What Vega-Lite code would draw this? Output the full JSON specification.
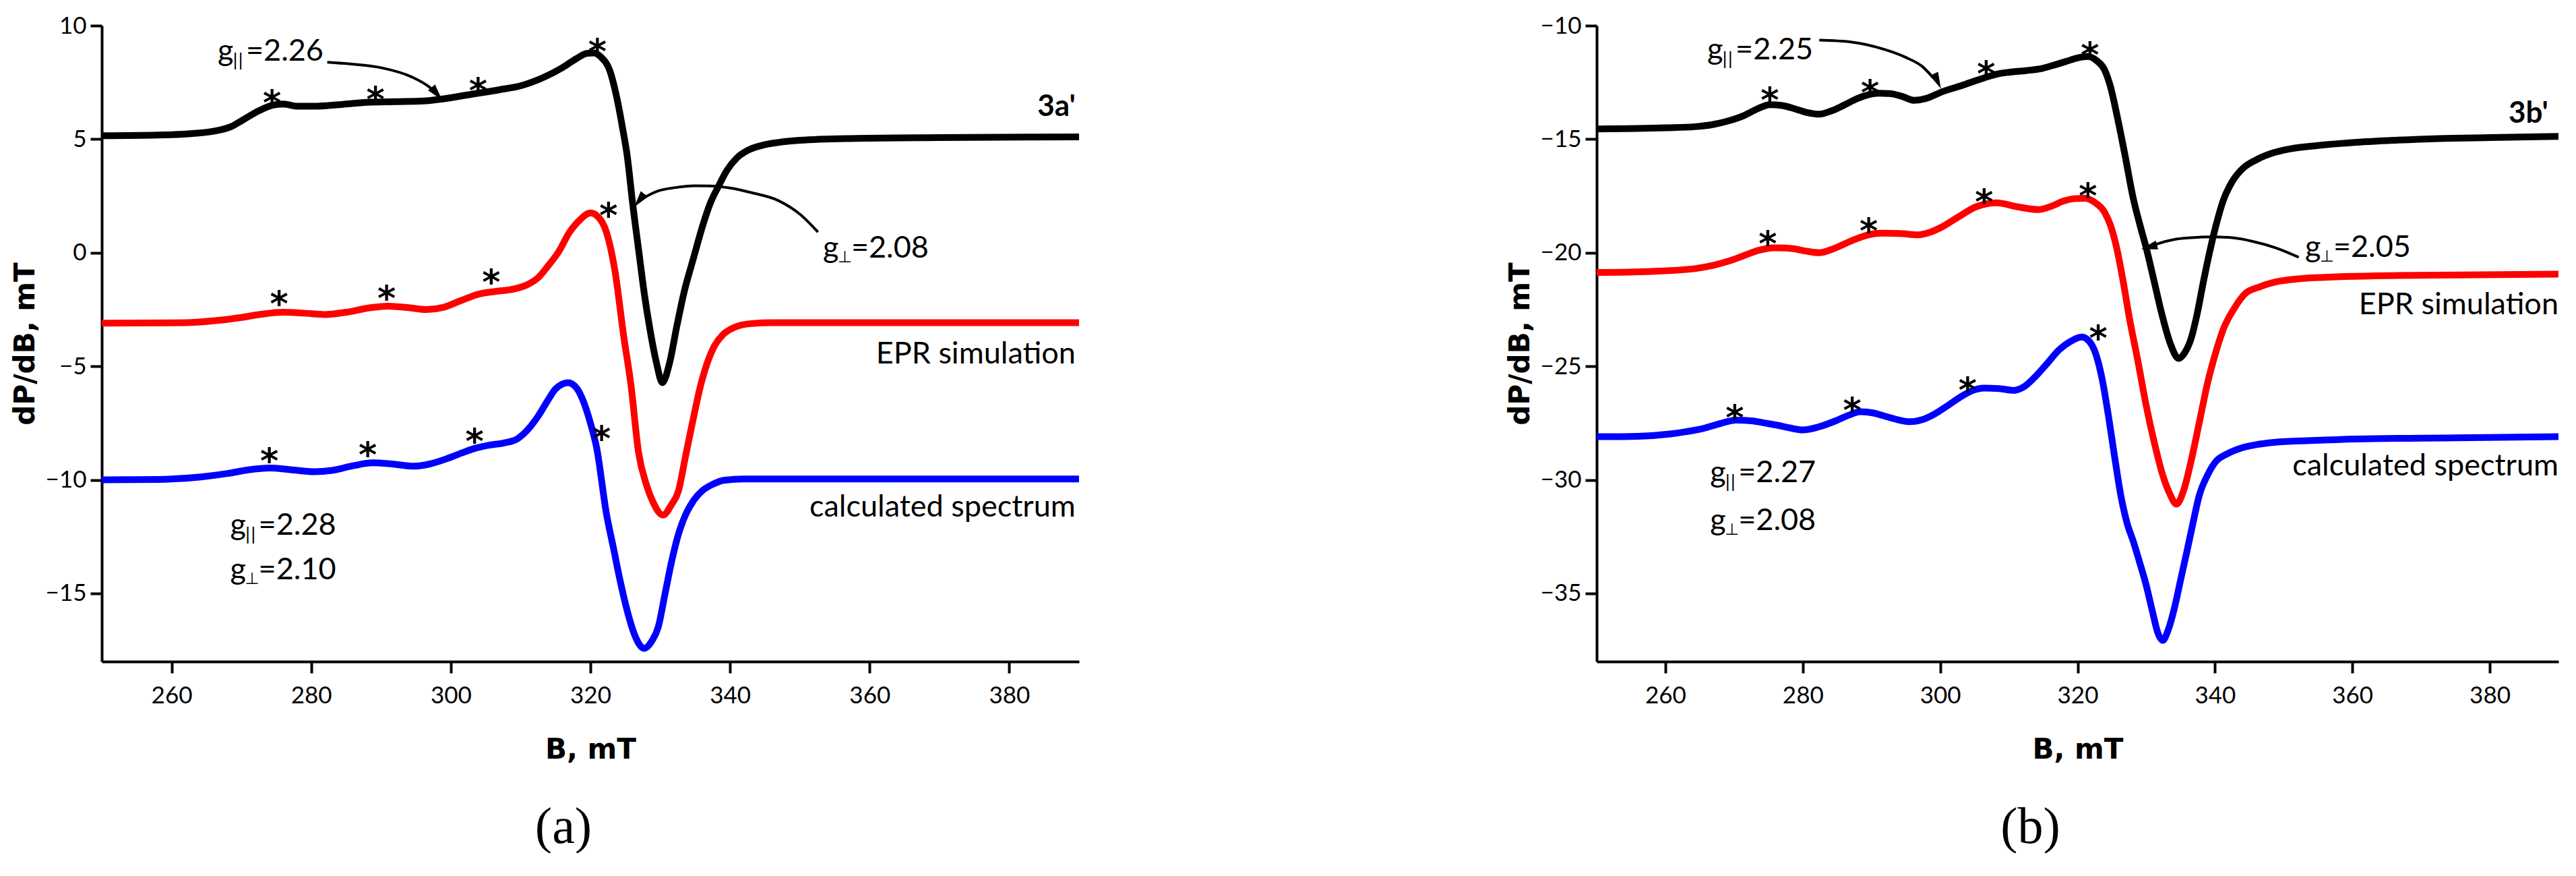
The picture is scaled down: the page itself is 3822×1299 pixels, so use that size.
{
  "$schema": "https://vega.github.io/schema/vega-lite/v6.json",
  "padding": {"left": 16, "top": 21, "right": 0, "bottom": 0},
  "background": "white",
  "spacing": 613,
  "config": {
    "view": {"stroke": null},
    "axis": {"domainColor": "black", "domainWidth": 4, "tickColor": "black", "tickWidth": 4, "tickSize": 17, "labelFont": "Lato", "labelFontSize": 35, "labelColor": "black", "titleFont": "DejaVu Sans", "titleFontSize": 42, "titleFontWeight": "bold", "titleColor": "black", "grid": false},
    "title": {"font": "Liberation Serif", "fontSize": 76, "fontWeight": "normal", "color": "black", "orient": "bottom", "offset": 58}
  },
  "datasets": {
    "curves": [
      {"p":"a","s":"exp","B":250,"v":5.15},{"p":"a","s":"exp","B":258,"v":5.18},{"p":"a","s":"exp","B":263,"v":5.25},{"p":"a","s":"exp","B":266,"v":5.35},{"p":"a","s":"exp","B":268.5,"v":5.55},{"p":"a","s":"exp","B":270.5,"v":5.9},{"p":"a","s":"exp","B":272.5,"v":6.25},{"p":"a","s":"exp","B":274.5,"v":6.5},{"p":"a","s":"exp","B":276,"v":6.55},{"p":"a","s":"exp","B":278,"v":6.45},{"p":"a","s":"exp","B":280.5,"v":6.45},{"p":"a","s":"exp","B":284,"v":6.52},{"p":"a","s":"exp","B":288,"v":6.62},{"p":"a","s":"exp","B":292,"v":6.65},{"p":"a","s":"exp","B":296,"v":6.68},{"p":"a","s":"exp","B":299,"v":6.78},{"p":"a","s":"exp","B":303,"v":6.98},{"p":"a","s":"exp","B":307,"v":7.18},{"p":"a","s":"exp","B":310,"v":7.35},{"p":"a","s":"exp","B":313.5,"v":7.75},{"p":"a","s":"exp","B":316,"v":8.15},{"p":"a","s":"exp","B":318,"v":8.55},{"p":"a","s":"exp","B":319.5,"v":8.78},{"p":"a","s":"exp","B":320.5,"v":8.8},{"p":"a","s":"exp","B":321.5,"v":8.62},{"p":"a","s":"exp","B":322.8,"v":8.0},{"p":"a","s":"exp","B":323.8,"v":6.8},{"p":"a","s":"exp","B":324.6,"v":5.5},{"p":"a","s":"exp","B":325.3,"v":4.2},{"p":"a","s":"exp","B":326.0,"v":2.3},{"p":"a","s":"exp","B":327.0,"v":-0.1},{"p":"a","s":"exp","B":327.7,"v":-1.76},{"p":"a","s":"exp","B":328.6,"v":-3.5},{"p":"a","s":"exp","B":329.5,"v":-4.9},{"p":"a","s":"exp","B":330.3,"v":-5.72},{"p":"a","s":"exp","B":331.3,"v":-4.9},{"p":"a","s":"exp","B":332.4,"v":-3.2},{"p":"a","s":"exp","B":333.4,"v":-1.76},{"p":"a","s":"exp","B":334.8,"v":-0.2},{"p":"a","s":"exp","B":336.1,"v":1.21},{"p":"a","s":"exp","B":337.2,"v":2.2},{"p":"a","s":"exp","B":338.3,"v":2.9},{"p":"a","s":"exp","B":339.6,"v":3.65},{"p":"a","s":"exp","B":341,"v":4.18},{"p":"a","s":"exp","B":342.5,"v":4.5},{"p":"a","s":"exp","B":344.5,"v":4.72},{"p":"a","s":"exp","B":347,"v":4.86},{"p":"a","s":"exp","B":350,"v":4.95},{"p":"a","s":"exp","B":357,"v":5.03},{"p":"a","s":"exp","B":370,"v":5.07},{"p":"a","s":"exp","B":390,"v":5.1},
      {"p":"a","s":"sim","B":250,"v":-3.1},{"p":"a","s":"sim","B":262,"v":-3.08},{"p":"a","s":"sim","B":266,"v":-3.0},{"p":"a","s":"sim","B":270,"v":-2.85},{"p":"a","s":"sim","B":273,"v":-2.7},{"p":"a","s":"sim","B":276,"v":-2.62},{"p":"a","s":"sim","B":279,"v":-2.66},{"p":"a","s":"sim","B":282,"v":-2.72},{"p":"a","s":"sim","B":285,"v":-2.62},{"p":"a","s":"sim","B":288.5,"v":-2.42},{"p":"a","s":"sim","B":291,"v":-2.35},{"p":"a","s":"sim","B":294,"v":-2.42},{"p":"a","s":"sim","B":296.5,"v":-2.5},{"p":"a","s":"sim","B":299,"v":-2.4},{"p":"a","s":"sim","B":301.5,"v":-2.1},{"p":"a","s":"sim","B":304,"v":-1.82},{"p":"a","s":"sim","B":306.5,"v":-1.7},{"p":"a","s":"sim","B":309,"v":-1.6},{"p":"a","s":"sim","B":311,"v":-1.4},{"p":"a","s":"sim","B":312.5,"v":-1.1},{"p":"a","s":"sim","B":314,"v":-0.55},{"p":"a","s":"sim","B":315.4,"v":0.02},{"p":"a","s":"sim","B":317,"v":0.9},{"p":"a","s":"sim","B":318.5,"v":1.45},{"p":"a","s":"sim","B":320,"v":1.75},{"p":"a","s":"sim","B":321.2,"v":1.55},{"p":"a","s":"sim","B":322.3,"v":0.9},{"p":"a","s":"sim","B":323.5,"v":-0.77},{"p":"a","s":"sim","B":324.8,"v":-3.74},{"p":"a","s":"sim","B":325.8,"v":-5.8},{"p":"a","s":"sim","B":326.9,"v":-8.8},{"p":"a","s":"sim","B":328,"v":-10.2},{"p":"a","s":"sim","B":329,"v":-11.0},{"p":"a","s":"sim","B":330.4,"v":-11.55},{"p":"a","s":"sim","B":331.6,"v":-11.1},{"p":"a","s":"sim","B":332.6,"v":-10.5},{"p":"a","s":"sim","B":333.6,"v":-9.0},{"p":"a","s":"sim","B":334.6,"v":-7.5},{"p":"a","s":"sim","B":335.9,"v":-5.7},{"p":"a","s":"sim","B":337.6,"v":-4.2},{"p":"a","s":"sim","B":339,"v":-3.6},{"p":"a","s":"sim","B":340.5,"v":-3.3},{"p":"a","s":"sim","B":343,"v":-3.12},{"p":"a","s":"sim","B":346,"v":-3.08},{"p":"a","s":"sim","B":390,"v":-3.08},
      {"p":"a","s":"calc","B":250,"v":-10.0},{"p":"a","s":"calc","B":258,"v":-9.98},{"p":"a","s":"calc","B":264.2,"v":-9.87},{"p":"a","s":"calc","B":268,"v":-9.72},{"p":"a","s":"calc","B":271,"v":-9.56},{"p":"a","s":"calc","B":274,"v":-9.48},{"p":"a","s":"calc","B":277,"v":-9.55},{"p":"a","s":"calc","B":280.4,"v":-9.64},{"p":"a","s":"calc","B":283,"v":-9.58},{"p":"a","s":"calc","B":286,"v":-9.38},{"p":"a","s":"calc","B":288.8,"v":-9.25},{"p":"a","s":"calc","B":291.5,"v":-9.3},{"p":"a","s":"calc","B":294.7,"v":-9.4},{"p":"a","s":"calc","B":297,"v":-9.3},{"p":"a","s":"calc","B":299.6,"v":-9.05},{"p":"a","s":"calc","B":301.7,"v":-8.8},{"p":"a","s":"calc","B":303.6,"v":-8.6},{"p":"a","s":"calc","B":305.5,"v":-8.47},{"p":"a","s":"calc","B":307.5,"v":-8.38},{"p":"a","s":"calc","B":309.5,"v":-8.2},{"p":"a","s":"calc","B":311,"v":-7.8},{"p":"a","s":"calc","B":312.5,"v":-7.2},{"p":"a","s":"calc","B":314,"v":-6.45},{"p":"a","s":"calc","B":315,"v":-6.0},{"p":"a","s":"calc","B":316.8,"v":-5.72},{"p":"a","s":"calc","B":318,"v":-5.95},{"p":"a","s":"calc","B":318.8,"v":-6.4},{"p":"a","s":"calc","B":320,"v":-7.5},{"p":"a","s":"calc","B":320.9,"v":-8.6},{"p":"a","s":"calc","B":322.3,"v":-11.5},{"p":"a","s":"calc","B":323.3,"v":-13.0},{"p":"a","s":"calc","B":324.3,"v":-14.5},{"p":"a","s":"calc","B":325.3,"v":-15.8},{"p":"a","s":"calc","B":326.3,"v":-16.8},{"p":"a","s":"calc","B":327.7,"v":-17.42},{"p":"a","s":"calc","B":328.8,"v":-17.1},{"p":"a","s":"calc","B":329.7,"v":-16.5},{"p":"a","s":"calc","B":330.7,"v":-15.0},{"p":"a","s":"calc","B":331.7,"v":-13.5},{"p":"a","s":"calc","B":332.7,"v":-12.3},{"p":"a","s":"calc","B":333.6,"v":-11.56},{"p":"a","s":"calc","B":334.8,"v":-10.9},{"p":"a","s":"calc","B":336.1,"v":-10.46},{"p":"a","s":"calc","B":337.5,"v":-10.2},{"p":"a","s":"calc","B":339.1,"v":-10.02},{"p":"a","s":"calc","B":342,"v":-9.96},{"p":"a","s":"calc","B":390,"v":-9.96},
      {"p":"b","s":"exp","B":250,"v":-14.55},{"p":"b","s":"exp","B":260,"v":-14.5},{"p":"b","s":"exp","B":264.3,"v":-14.45},{"p":"b","s":"exp","B":267,"v":-14.35},{"p":"b","s":"exp","B":269.1,"v":-14.2},{"p":"b","s":"exp","B":271.5,"v":-13.95},{"p":"b","s":"exp","B":273.5,"v":-13.65},{"p":"b","s":"exp","B":275.2,"v":-13.48},{"p":"b","s":"exp","B":277,"v":-13.52},{"p":"b","s":"exp","B":278.8,"v":-13.66},{"p":"b","s":"exp","B":280.5,"v":-13.82},{"p":"b","s":"exp","B":282.4,"v":-13.9},{"p":"b","s":"exp","B":284.2,"v":-13.75},{"p":"b","s":"exp","B":286,"v":-13.5},{"p":"b","s":"exp","B":288,"v":-13.2},{"p":"b","s":"exp","B":289.6,"v":-13.04},{"p":"b","s":"exp","B":291,"v":-12.98},{"p":"b","s":"exp","B":292.6,"v":-12.99},{"p":"b","s":"exp","B":294.5,"v":-13.12},{"p":"b","s":"exp","B":296.2,"v":-13.29},{"p":"b","s":"exp","B":297.8,"v":-13.22},{"p":"b","s":"exp","B":300.4,"v":-12.9},{"p":"b","s":"exp","B":303,"v":-12.65},{"p":"b","s":"exp","B":306.4,"v":-12.3},{"p":"b","s":"exp","B":308.5,"v":-12.12},{"p":"b","s":"exp","B":310.1,"v":-12.05},{"p":"b","s":"exp","B":312.5,"v":-11.98},{"p":"b","s":"exp","B":314.9,"v":-11.88},{"p":"b","s":"exp","B":317,"v":-11.7},{"p":"b","s":"exp","B":318.5,"v":-11.56},{"p":"b","s":"exp","B":320,"v":-11.42},{"p":"b","s":"exp","B":321.5,"v":-11.36},{"p":"b","s":"exp","B":322.8,"v":-11.55},{"p":"b","s":"exp","B":323.9,"v":-11.93},{"p":"b","s":"exp","B":324.8,"v":-12.7},{"p":"b","s":"exp","B":325.7,"v":-13.9},{"p":"b","s":"exp","B":326.9,"v":-15.7},{"p":"b","s":"exp","B":328.1,"v":-17.6},{"p":"b","s":"exp","B":329.1,"v":-18.8},{"p":"b","s":"exp","B":330,"v":-19.8},{"p":"b","s":"exp","B":331.1,"v":-21.2},{"p":"b","s":"exp","B":332.1,"v":-22.5},{"p":"b","s":"exp","B":333.5,"v":-24.0},{"p":"b","s":"exp","B":334.7,"v":-24.65},{"p":"b","s":"exp","B":335.6,"v":-24.4},{"p":"b","s":"exp","B":336.5,"v":-23.8},{"p":"b","s":"exp","B":337.4,"v":-22.7},{"p":"b","s":"exp","B":338.3,"v":-21.3},{"p":"b","s":"exp","B":339.2,"v":-20.0},{"p":"b","s":"exp","B":340.1,"v":-18.85},{"p":"b","s":"exp","B":341.2,"v":-17.7},{"p":"b","s":"exp","B":342.5,"v":-16.87},{"p":"b","s":"exp","B":344,"v":-16.3},{"p":"b","s":"exp","B":346.2,"v":-15.88},{"p":"b","s":"exp","B":348.5,"v":-15.6},{"p":"b","s":"exp","B":350.9,"v":-15.43},{"p":"b","s":"exp","B":355,"v":-15.28},{"p":"b","s":"exp","B":360.6,"v":-15.14},{"p":"b","s":"exp","B":366,"v":-15.05},{"p":"b","s":"exp","B":372.6,"v":-14.97},{"p":"b","s":"exp","B":380,"v":-14.93},{"p":"b","s":"exp","B":390,"v":-14.88},
      {"p":"b","s":"sim","B":250,"v":-20.87},{"p":"b","s":"sim","B":258,"v":-20.82},{"p":"b","s":"sim","B":264.3,"v":-20.7},{"p":"b","s":"sim","B":267,"v":-20.55},{"p":"b","s":"sim","B":269.1,"v":-20.38},{"p":"b","s":"sim","B":271.5,"v":-20.12},{"p":"b","s":"sim","B":273.5,"v":-19.9},{"p":"b","s":"sim","B":275.8,"v":-19.78},{"p":"b","s":"sim","B":277.5,"v":-19.79},{"p":"b","s":"sim","B":278.8,"v":-19.83},{"p":"b","s":"sim","B":280.5,"v":-19.93},{"p":"b","s":"sim","B":282.4,"v":-20.0},{"p":"b","s":"sim","B":284.5,"v":-19.82},{"p":"b","s":"sim","B":287.2,"v":-19.46},{"p":"b","s":"sim","B":289.4,"v":-19.22},{"p":"b","s":"sim","B":291.4,"v":-19.14},{"p":"b","s":"sim","B":294,"v":-19.15},{"p":"b","s":"sim","B":296.8,"v":-19.21},{"p":"b","s":"sim","B":298.5,"v":-19.1},{"p":"b","s":"sim","B":300.4,"v":-18.84},{"p":"b","s":"sim","B":302.5,"v":-18.45},{"p":"b","s":"sim","B":305.2,"v":-17.98},{"p":"b","s":"sim","B":308.2,"v":-17.8},{"p":"b","s":"sim","B":311.3,"v":-17.98},{"p":"b","s":"sim","B":314.3,"v":-18.1},{"p":"b","s":"sim","B":316.2,"v":-17.95},{"p":"b","s":"sim","B":317.9,"v":-17.73},{"p":"b","s":"sim","B":319.5,"v":-17.62},{"p":"b","s":"sim","B":321.1,"v":-17.6},{"p":"b","s":"sim","B":322.5,"v":-17.78},{"p":"b","s":"sim","B":323.9,"v":-18.2},{"p":"b","s":"sim","B":324.8,"v":-18.8},{"p":"b","s":"sim","B":325.7,"v":-19.8},{"p":"b","s":"sim","B":326.6,"v":-21.2},{"p":"b","s":"sim","B":327.5,"v":-22.8},{"p":"b","s":"sim","B":328.8,"v":-24.8},{"p":"b","s":"sim","B":330,"v":-26.75},{"p":"b","s":"sim","B":331.2,"v":-28.4},{"p":"b","s":"sim","B":332.3,"v":-29.7},{"p":"b","s":"sim","B":333.4,"v":-30.6},{"p":"b","s":"sim","B":334.4,"v":-31.07},{"p":"b","s":"sim","B":335.4,"v":-30.5},{"p":"b","s":"sim","B":336.5,"v":-29.2},{"p":"b","s":"sim","B":337.7,"v":-27.5},{"p":"b","s":"sim","B":338.9,"v":-25.76},{"p":"b","s":"sim","B":340.1,"v":-24.4},{"p":"b","s":"sim","B":341.3,"v":-23.3},{"p":"b","s":"sim","B":342.8,"v":-22.45},{"p":"b","s":"sim","B":344.4,"v":-21.8},{"p":"b","s":"sim","B":346.5,"v":-21.5},{"p":"b","s":"sim","B":348.6,"v":-21.3},{"p":"b","s":"sim","B":354.6,"v":-21.1},{"p":"b","s":"sim","B":366.6,"v":-21.0},{"p":"b","s":"sim","B":390,"v":-20.94},
      {"p":"b","s":"calc","B":250,"v":-28.1},{"p":"b","s":"calc","B":256,"v":-28.08},{"p":"b","s":"calc","B":260.7,"v":-27.98},{"p":"b","s":"calc","B":263,"v":-27.88},{"p":"b","s":"calc","B":265.5,"v":-27.74},{"p":"b","s":"calc","B":268,"v":-27.52},{"p":"b","s":"calc","B":270.3,"v":-27.37},{"p":"b","s":"calc","B":272.5,"v":-27.4},{"p":"b","s":"calc","B":274.5,"v":-27.5},{"p":"b","s":"calc","B":276.4,"v":-27.6},{"p":"b","s":"calc","B":278.2,"v":-27.72},{"p":"b","s":"calc","B":280,"v":-27.8},{"p":"b","s":"calc","B":282.4,"v":-27.66},{"p":"b","s":"calc","B":284.8,"v":-27.4},{"p":"b","s":"calc","B":286.7,"v":-27.15},{"p":"b","s":"calc","B":288.4,"v":-27.0},{"p":"b","s":"calc","B":290.2,"v":-27.05},{"p":"b","s":"calc","B":292,"v":-27.2},{"p":"b","s":"calc","B":293.8,"v":-27.35},{"p":"b","s":"calc","B":295.6,"v":-27.44},{"p":"b","s":"calc","B":297.4,"v":-27.35},{"p":"b","s":"calc","B":299.2,"v":-27.1},{"p":"b","s":"calc","B":301,"v":-26.75},{"p":"b","s":"calc","B":302.8,"v":-26.38},{"p":"b","s":"calc","B":304.6,"v":-26.08},{"p":"b","s":"calc","B":306.4,"v":-25.96},{"p":"b","s":"calc","B":308.6,"v":-25.98},{"p":"b","s":"calc","B":310.7,"v":-26.06},{"p":"b","s":"calc","B":312.2,"v":-25.9},{"p":"b","s":"calc","B":313.7,"v":-25.5},{"p":"b","s":"calc","B":315.5,"v":-24.9},{"p":"b","s":"calc","B":317.3,"v":-24.28},{"p":"b","s":"calc","B":319,"v":-23.9},{"p":"b","s":"calc","B":320.6,"v":-23.71},{"p":"b","s":"calc","B":321.7,"v":-23.9},{"p":"b","s":"calc","B":322.7,"v":-24.5},{"p":"b","s":"calc","B":323.6,"v":-25.6},{"p":"b","s":"calc","B":324.5,"v":-27.2},{"p":"b","s":"calc","B":325.4,"v":-29.0},{"p":"b","s":"calc","B":326.3,"v":-30.7},{"p":"b","s":"calc","B":327.2,"v":-31.9},{"p":"b","s":"calc","B":328.1,"v":-32.7},{"p":"b","s":"calc","B":329,"v":-33.6},{"p":"b","s":"calc","B":330,"v":-34.65},{"p":"b","s":"calc","B":330.9,"v":-35.8},{"p":"b","s":"calc","B":331.7,"v":-36.75},{"p":"b","s":"calc","B":332.4,"v":-37.07},{"p":"b","s":"calc","B":333.2,"v":-36.6},{"p":"b","s":"calc","B":334.1,"v":-35.64},{"p":"b","s":"calc","B":335,"v":-34.4},{"p":"b","s":"calc","B":335.9,"v":-33.17},{"p":"b","s":"calc","B":336.8,"v":-31.9},{"p":"b","s":"calc","B":337.7,"v":-30.7},{"p":"b","s":"calc","B":338.9,"v":-29.8},{"p":"b","s":"calc","B":340.1,"v":-29.2},{"p":"b","s":"calc","B":341.8,"v":-28.85},{"p":"b","s":"calc","B":343.8,"v":-28.6},{"p":"b","s":"calc","B":346,"v":-28.45},{"p":"b","s":"calc","B":348.6,"v":-28.35},{"p":"b","s":"calc","B":354,"v":-28.27},{"p":"b","s":"calc","B":360.6,"v":-28.2},{"p":"b","s":"calc","B":375,"v":-28.15},{"p":"b","s":"calc","B":390,"v":-28.1}
    ],
    "arrows": [
      {"p":"a","id":"par","B":282.3,"v":8.39},{"p":"a","id":"par","B":286,"v":8.3},{"p":"a","id":"par","B":290.1,"v":8.14},{"p":"a","id":"par","B":294.4,"v":7.74},{"p":"a","id":"par","B":296.9,"v":7.3},{"p":"a","id":"par","B":298.0,"v":7.0},
      {"p":"a","id":"perp","B":327.0,"v":2.3},{"p":"a","id":"perp","B":329.5,"v":2.7},{"p":"a","id":"perp","B":332.2,"v":2.87},{"p":"a","id":"perp","B":335,"v":2.95},{"p":"a","id":"perp","B":337.1,"v":2.94},{"p":"a","id":"perp","B":340,"v":2.85},{"p":"a","id":"perp","B":343,"v":2.65},{"p":"a","id":"perp","B":346.9,"v":2.3},{"p":"a","id":"perp","B":350,"v":1.7},{"p":"a","id":"perp","B":352.6,"v":0.91},
      {"p":"b","id":"par","B":282.4,"v":-10.64},{"p":"b","id":"par","B":287,"v":-10.72},{"p":"b","id":"par","B":292,"v":-11.06},{"p":"b","id":"par","B":295,"v":-11.4},{"p":"b","id":"par","B":297.4,"v":-11.8},{"p":"b","id":"par","B":299.0,"v":-12.3},
      {"p":"b","id":"perp","B":330.6,"v":-19.72},{"p":"b","id":"perp","B":331.7,"v":-19.6},{"p":"b","id":"perp","B":334,"v":-19.42},{"p":"b","id":"perp","B":336.5,"v":-19.34},{"p":"b","id":"perp","B":339.5,"v":-19.3},{"p":"b","id":"perp","B":342.5,"v":-19.34},{"p":"b","id":"perp","B":345.5,"v":-19.5},{"p":"b","id":"perp","B":349,"v":-19.8},{"p":"b","id":"perp","B":352.2,"v":-20.2}
    ],
    "heads": [
      {"p":"a","id":"par","B":298.0,"v":7.0},
      {"p":"a","id":"perp","B":327.0,"v":2.3},
      {"p":"b","id":"par","B":299.6,"v":-12.45},
      {"p":"b","id":"perp","B":330.4,"v":-19.75}
    ],
    "stars": [
      {"p":"a","B":274.4,"v":7.0},{"p":"a","B":289.2,"v":7.15},{"p":"a","B":303.9,"v":7.55},{"p":"a","B":321.0,"v":9.25},
      {"p":"a","B":275.4,"v":-1.86},{"p":"a","B":290.8,"v":-1.6},{"p":"a","B":305.8,"v":-0.9},{"p":"a","B":322.6,"v":2.05},
      {"p":"a","B":274.0,"v":-8.78},{"p":"a","B":288.1,"v":-8.5},{"p":"a","B":303.4,"v":-7.9},{"p":"a","B":321.6,"v":-7.8},
      {"p":"b","B":275.2,"v":-12.87},{"p":"b","B":289.8,"v":-12.54},{"p":"b","B":306.7,"v":-11.73},{"p":"b","B":321.8,"v":-10.9},
      {"p":"b","B":274.9,"v":-19.2},{"p":"b","B":289.6,"v":-18.65},{"p":"b","B":306.4,"v":-17.36},{"p":"b","B":321.5,"v":-17.1},
      {"p":"b","B":270.1,"v":-26.87},{"p":"b","B":287.2,"v":-26.55},{"p":"b","B":304.0,"v":-25.64},{"p":"b","B":323.0,"v":-23.37}
    ],
    "notes": [
      {"p":"a","kind":"bold","text":"3a'","B":389.5,"v":6.4},
      {"p":"a","kind":"plain","text":"EPR simulation","B":389.5,"v":-4.45},
      {"p":"a","kind":"plain","text":"calculated spectrum","B":389.5,"v":-11.2},
      {"p":"b","kind":"bold","text":"3b'","B":388.5,"v":-13.9},
      {"p":"b","kind":"plain","text":"EPR simulation","B":390,"v":-22.3},
      {"p":"b","kind":"plain","text":"calculated spectrum","B":390,"v":-29.4}
    ],
    "gvals": [
      {"p":"a","sub":"||","rest":"=2.26","B":266.6,"v":8.87},
      {"p":"a","sub":"⊥","rest":"=2.08","B":353.3,"v":0.2},
      {"p":"a","sub":"||","rest":"=2.28","B":268.4,"v":-12.0},
      {"p":"a","sub":"⊥","rest":"=2.10","B":268.4,"v":-13.95},
      {"p":"b","sub":"||","rest":"=2.25","B":266.1,"v":-11.06},
      {"p":"b","sub":"⊥","rest":"=2.05","B":353.1,"v":-19.76},
      {"p":"b","sub":"||","rest":"=2.27","B":266.5,"v":-29.7},
      {"p":"b","sub":"⊥","rest":"=2.08","B":266.5,"v":-31.8}
    ]
  },
  "hconcat": [
    {
      "width": 1450, "height": 943,
      "title": {"text": "(a)", "dx": -40},
      "encoding": {
        "x": {"field": "B", "type": "quantitative", "scale": {"domain": [250, 390], "nice": false, "zero": false}, "axis": {"title": "B, mT", "values": [260, 280, 300, 320, 340, 360, 380], "labelPadding": 16, "titlePadding": 42}},
        "y": {"field": "v", "type": "quantitative", "scale": {"domain": [-18, 10], "nice": false, "zero": false}, "axis": {"title": "dP/dB, mT", "values": [-15, -10, -5, 0, 5, 10], "labelPadding": 6, "titlePadding": 8}}
      },
      "layer": [
        {"data": {"name": "curves"}, "transform": [{"filter": "datum.p === 'a'"}], "mark": {"type": "line", "strokeWidth": 10, "interpolate": "monotone"}, "encoding": {"color": {"field": "s", "type": "nominal", "scale": {"domain": ["exp", "sim", "calc"], "range": ["#000000", "#ff0000", "#0000ff"]}, "legend": null}}},
        {"data": {"name": "arrows"}, "transform": [{"filter": "datum.p === 'a'"}], "mark": {"type": "line", "strokeWidth": 4, "color": "black", "interpolate": "monotone"}, "encoding": {"detail": {"field": "id"}}},
        {"data": {"name": "heads"}, "transform": [{"filter": "datum.p === 'a' && datum.id === 'par'"}], "mark": {"type": "point", "shape": "M0,-1L0.55,1L-0.55,1Z", "filled": true, "color": "black", "opacity": 1, "size": 600, "angle": 140}},
        {"data": {"name": "heads"}, "transform": [{"filter": "datum.p === 'a' && datum.id === 'perp'"}], "mark": {"type": "point", "shape": "M0,-1L0.55,1L-0.55,1Z", "filled": true, "color": "black", "opacity": 1, "size": 600, "angle": 218}},
        {"data": {"name": "stars"}, "transform": [{"filter": "datum.p === 'a'"}], "mark": {"type": "text", "text": "*", "font": "DejaVu Sans", "fontSize": 52, "fontWeight": "bold", "color": "black", "baseline": "middle", "align": "center", "dy": 15}},
        {"data": {"name": "notes"}, "transform": [{"filter": "datum.p === 'a' && datum.kind === 'plain'"}], "mark": {"type": "text", "font": "Lato", "fontSize": 45, "color": "black", "align": "right", "baseline": "middle"}, "encoding": {"text": {"field": "text"}}},
        {"data": {"name": "notes"}, "transform": [{"filter": "datum.p === 'a' && datum.kind === 'bold'"}], "mark": {"type": "text", "font": "Lato", "fontSize": 44, "fontWeight": "bold", "color": "black", "align": "right", "baseline": "middle"}, "encoding": {"text": {"field": "text"}}},
        {"data": {"name": "gvals"}, "transform": [{"filter": "datum.p === 'a'"}], "mark": {"type": "text", "text": "g", "font": "Lato", "fontSize": 45, "color": "black", "align": "left", "baseline": "middle"}},
        {"data": {"name": "gvals"}, "transform": [{"filter": "datum.p === 'a'"}], "mark": {"type": "text", "font": "DejaVu Sans", "fontSize": 24, "color": "black", "align": "left", "baseline": "middle", "dx": 22, "dy": 14}, "encoding": {"text": {"field": "sub"}}},
        {"data": {"name": "gvals"}, "transform": [{"filter": "datum.p === 'a'"}], "mark": {"type": "text", "font": "Lato", "fontSize": 45, "color": "black", "align": "left", "baseline": "middle", "dx": 42}, "encoding": {"text": {"field": "rest"}}}
      ]
    },
    {
      "width": 1427, "height": 943,
      "title": {"text": "(b)", "dx": -70},
      "encoding": {
        "x": {"field": "B", "type": "quantitative", "scale": {"domain": [250, 390], "nice": false, "zero": false}, "axis": {"title": "B, mT", "values": [260, 280, 300, 320, 340, 360, 380], "labelPadding": 16, "titlePadding": 42}},
        "y": {"field": "v", "type": "quantitative", "scale": {"domain": [-38, -10], "nice": false, "zero": false}, "axis": {"title": "dP/dB, mT", "values": [-35, -30, -25, -20, -15, -10], "labelPadding": 6, "titlePadding": 8}}
      },
      "layer": [
        {"data": {"name": "curves"}, "transform": [{"filter": "datum.p === 'b'"}], "mark": {"type": "line", "strokeWidth": 10, "interpolate": "monotone"}, "encoding": {"color": {"field": "s", "type": "nominal", "scale": {"domain": ["exp", "sim", "calc"], "range": ["#000000", "#ff0000", "#0000ff"]}, "legend": null}}},
        {"data": {"name": "arrows"}, "transform": [{"filter": "datum.p === 'b'"}], "mark": {"type": "line", "strokeWidth": 4, "color": "black", "interpolate": "monotone"}, "encoding": {"detail": {"field": "id"}}},
        {"data": {"name": "heads"}, "transform": [{"filter": "datum.p === 'b' && datum.id === 'par'"}], "mark": {"type": "point", "shape": "M0,-1L0.55,1L-0.55,1Z", "filled": true, "color": "black", "opacity": 1, "size": 600, "angle": 155}},
        {"data": {"name": "heads"}, "transform": [{"filter": "datum.p === 'b' && datum.id === 'perp'"}], "mark": {"type": "point", "shape": "M0,-1L0.55,1L-0.55,1Z", "filled": true, "color": "black", "opacity": 1, "size": 600, "angle": 255}},
        {"data": {"name": "stars"}, "transform": [{"filter": "datum.p === 'b'"}], "mark": {"type": "text", "text": "*", "font": "DejaVu Sans", "fontSize": 52, "fontWeight": "bold", "color": "black", "baseline": "middle", "align": "center", "dy": 15}},
        {"data": {"name": "notes"}, "transform": [{"filter": "datum.p === 'b' && datum.kind === 'plain'"}], "mark": {"type": "text", "font": "Lato", "fontSize": 45, "color": "black", "align": "right", "baseline": "middle"}, "encoding": {"text": {"field": "text"}}},
        {"data": {"name": "notes"}, "transform": [{"filter": "datum.p === 'b' && datum.kind === 'bold'"}], "mark": {"type": "text", "font": "Lato", "fontSize": 44, "fontWeight": "bold", "color": "black", "align": "right", "baseline": "middle"}, "encoding": {"text": {"field": "text"}}},
        {"data": {"name": "gvals"}, "transform": [{"filter": "datum.p === 'b'"}], "mark": {"type": "text", "text": "g", "font": "Lato", "fontSize": 45, "color": "black", "align": "left", "baseline": "middle"}},
        {"data": {"name": "gvals"}, "transform": [{"filter": "datum.p === 'b'"}], "mark": {"type": "text", "font": "DejaVu Sans", "fontSize": 24, "color": "black", "align": "left", "baseline": "middle", "dx": 22, "dy": 14}, "encoding": {"text": {"field": "sub"}}},
        {"data": {"name": "gvals"}, "transform": [{"filter": "datum.p === 'b'"}], "mark": {"type": "text", "font": "Lato", "fontSize": 45, "color": "black", "align": "left", "baseline": "middle", "dx": 42}, "encoding": {"text": {"field": "rest"}}}
      ]
    }
  ]
}
